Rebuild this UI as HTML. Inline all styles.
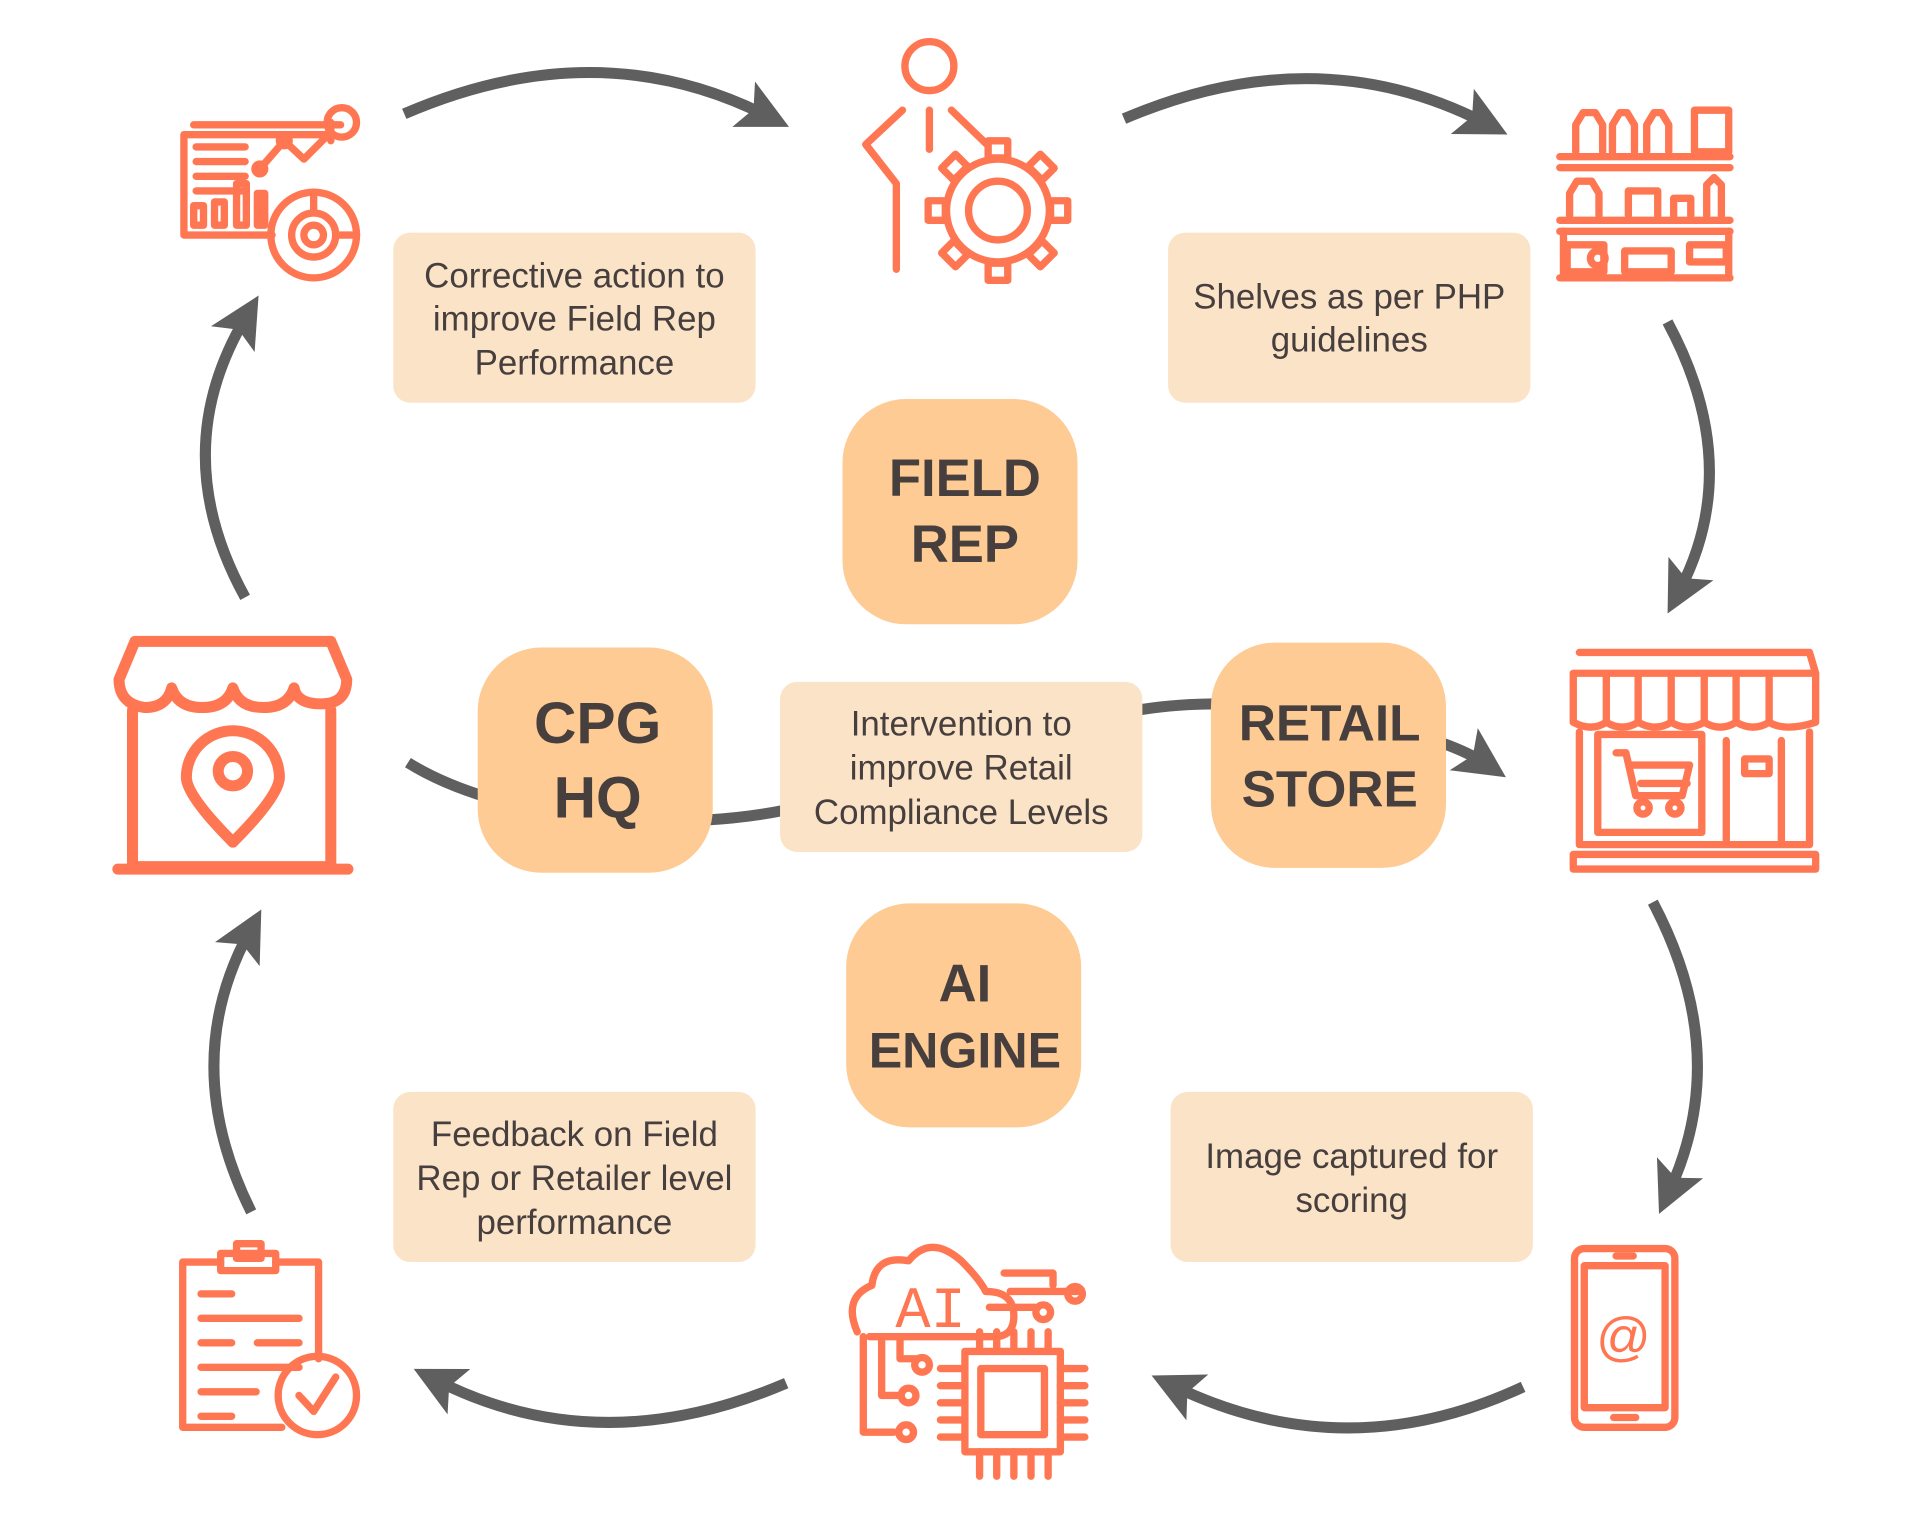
<!DOCTYPE html>
<html><head><meta charset="utf-8"><style>
html,body{margin:0;padding:0;background:#fff;}
svg{display:block}
text{font-family:"Liberation Sans",sans-serif;fill:#473f3d;text-anchor:middle}
.b{font-weight:bold;font-size:43px}
.l{font-size:28.5px}
.ic{fill:none;stroke:#FF7752;stroke-width:6;stroke-linecap:round;stroke-linejoin:round}
.ar{fill:none;stroke:#5f5f5f;stroke-width:9}
.it{fill:#FF7752;stroke:none}
</style></head><body>
<svg width="1920" height="1524" viewBox="0 0 1568 1245" xmlns="http://www.w3.org/2000/svg">
<defs>
<marker id="m" markerWidth="6" markerHeight="6" refX="2.2" refY="2.5" orient="auto" markerUnits="strokeWidth">
<path d="M0,0.2 L4.6,2.5 L0,4.8 L1,2.5 Z" fill="#5f5f5f"/></marker>
</defs>
<path class="ar" d="M330,93 Q487,25 625,94" marker-end="url(#m)"/>
<path class="ar" d="M918,97 Q1075,30 1212,100" marker-end="url(#m)"/>
<path class="ar" d="M1362,263 Q1425,380 1372,482" marker-end="url(#m)"/>
<path class="ar" d="M1350,737 Q1415,860 1364,972" marker-end="url(#m)"/>
<path class="ar" d="M1244,1133 Q1100,1200 960,1133" marker-end="url(#m)"/>
<path class="ar" d="M642,1130 Q490,1195 357,1128" marker-end="url(#m)"/>
<path class="ar" d="M205,990 Q145,870 203,762" marker-end="url(#m)"/>
<path class="ar" d="M200,488 Q135,370 200,260" marker-end="url(#m)"/>
<path class="ar" d="M333,623 Q360,640 400,652"/>
<path class="ar" d="M575,670 Q610,668 640,662"/>
<path class="ar" d="M930,580 Q960,575 995,575"/>
<path class="ar" d="M1178,607 Q1200,615 1212,623" marker-end="url(#m)"/>
<rect x="688" y="326" width="192" height="184" rx="52" fill="#FDCB93"/>
<text class="b" x="788" y="405">FIELD</text><text class="b" x="788" y="459">REP</text>
<rect x="390" y="529" width="192" height="184" rx="52" fill="#FDCB93"/>
<text class="b" x="488" y="607" style="font-size:48px">CPG</text><text class="b" x="488" y="668" style="font-size:48px">HQ</text>
<rect x="989" y="525" width="192" height="184" rx="52" fill="#FDCB93"/>
<text class="b" x="1086" y="605" style="font-size:42px">RETAIL</text><text class="b" x="1086" y="659" style="font-size:42px">STORE</text>
<rect x="691" y="738" width="192" height="183" rx="52" fill="#FDCB93"/>
<text class="b" x="788" y="818">AI</text><text class="b" x="788" y="872" style="font-size:41px">ENGINE</text>

<rect x="321" y="190" width="296" height="139" rx="14" fill="#FBE3C8"/>
<text class="l" x="469" y="235">Corrective action to</text><text class="l" x="469" y="270">improve Field Rep</text><text class="l" x="469" y="306">Performance</text>
<rect x="954" y="190" width="296" height="139" rx="14" fill="#FBE3C8"/>
<text class="l" x="1102" y="252">Shelves as per PHP</text><text class="l" x="1102" y="287">guidelines</text>
<rect x="637" y="557" width="296" height="139" rx="14" fill="#FBE3C8"/>
<text class="l" x="785" y="601">Intervention to</text><text class="l" x="785" y="637">improve Retail</text><text class="l" x="785" y="673">Compliance Levels</text>
<rect x="321" y="892" width="296" height="139" rx="14" fill="#FBE3C8"/>
<text class="l" x="469" y="936">Feedback on Field</text><text class="l" x="469" y="972">Rep or Retailer level</text><text class="l" x="469" y="1008">performance</text>
<rect x="956" y="892" width="296" height="139" rx="14" fill="#FBE3C8"/>
<text class="l" x="1104" y="954">Image captured for</text><text class="l" x="1104" y="990">scoring</text>

<g class="ic">
<path d="M270,115 L270,100 M266,110 L150,110 L150,192 L222,192"/>
<path d="M158,102 h120"/>
<path d="M160,120h40 M160,132h40 M160,144h40 M160,156h40"/>
<circle cx="279" cy="100" r="12"/><path d="M270,108 L248,130 L232,115 L212,138"/>
<circle cx="232" cy="115" r="4"/><circle cx="212" cy="138" r="4"/>
<rect x="158" y="168" width="8" height="16"/><rect x="175" y="165" width="8" height="19"/><rect x="193" y="150" width="8" height="34"/><rect x="210" y="158" width="6" height="26"/>
<circle cx="256" cy="192" r="35"/><circle cx="256" cy="192" r="18"/><circle cx="256" cy="192" r="8"/>
<path d="M256,157 v17 M291,192 h-17"/>
</g>
<g class="ic">
<circle cx="759" cy="54" r="20"/>
<path d="M737,90 L707,118 L732,150 L732,220 M759,90 V122 M777,90 L806,118"/>
<circle cx="815" cy="172" r="42"/><circle cx="815" cy="172" r="24"/>
<g transform="translate(815,172)">
<rect x="-8" y="-57" width="16" height="14"/><rect x="-8" y="43" width="16" height="14"/>
<rect x="-57" y="-8" width="14" height="16"/><rect x="43" y="-8" width="14" height="16"/>
<rect x="-8" y="-57" width="16" height="14" transform="rotate(45)"/><rect x="-8" y="-57" width="16" height="14" transform="rotate(135)"/>
<rect x="-8" y="-57" width="16" height="14" transform="rotate(225)"/><rect x="-8" y="-57" width="16" height="14" transform="rotate(315)"/>
</g>
</g>
<g class="ic">
<path d="M1274,128 H1413 M1274,137 H1413 M1274,180 H1413 M1274,189 H1413 M1274,227 H1413"/>
<path d="M1287,124 v-22 l6,-10 h10 l6,10 v22 M1317,124 v-22 l6,-10 h6 l6,10 v22 M1345,124 v-22 l6,-10 h6 l6,10 v22"/>
<rect x="1384" y="90" width="28" height="34"/>
<path d="M1282,176 v-18 l6,-10 h12 l6,10 v18 M1330,176 v-20 h24 v20 M1367,176 v-14 h14 v14 M1394,176 v-25 l6,-6 l6,6 v25"/>
<rect x="1280" y="200" width="30" height="22"/><circle cx="1305" cy="211" r="6"/>
<rect x="1327" y="205" width="38" height="17"/><rect x="1380" y="200" width="30" height="14"/>
<path d="M1277,189 V227 M1412,189 V227"/>
</g>
<g class="ic" style="stroke-width:9">
<path d="M110,524 H270 L283,555 Q283,575 262,575 Q242,575 240,562 Q235,578 215,578 Q195,578 190,562 Q185,578 165,578 Q145,578 140,562 Q136,578 118,578 Q97,575 97,555 Z"/>
<path d="M108,580 V708 H270 V580 M96,710 H284"/>
<path d="M190,688 Q152,650 152,635 A38,38 0 1,1 228,635 Q228,650 190,688 Z"/>
<circle cx="190" cy="630" r="12"/>
</g>
<g class="ic">
<path d="M1290,533 H1478 L1483,550 V590 M1285,550 H1483 M1285,550 V590 Q1300,598 1312,590 Q1325,598 1338,590 Q1352,598 1365,590 Q1378,598 1392,590 Q1405,598 1418,590 Q1432,598 1445,590 Q1458,598 1483,590 M1312,550V590 M1338,550V590 M1365,550V590 M1392,550V590 M1418,550V590 M1445,550V590"/>
<path d="M1290,598 V690 H1478 V598 M1285,698 H1483 V710 H1285 Z"/>
<rect x="1305" y="600" width="85" height="80"/>
<path d="M1320,615 h8 l8,35 h38 l6,-25 h-48 M1340,640 h38"/>
<circle cx="1342" cy="660" r="5"/><circle cx="1368" cy="660" r="5"/>
<path d="M1410,605 V688 M1455,605 V688 M1425,620 h20 v12 h-20 z"/>
</g>
<g class="ic">
<rect x="1286" y="1020" width="82" height="146" rx="8"/>
<path d="M1294,1034 H1360 V1150 H1294 Z M1318,1158 h18 M1320,1026 h14"/>
</g>
<text class="it" x="1326" y="1107" style="font-size:44px">@</text>
<g class="ic">
<path d="M700,1088 Q688,1060 712,1050 Q715,1025 742,1030 Q760,1008 785,1030 Q800,1045 805,1055 Q828,1055 828,1075 Q828,1092 812,1092 H710"/>
<path d="M705,1092 V1170 H730 M720,1092 V1140 H735 M735,1092 V1110 H748"/>
<circle cx="740" cy="1170" r="6"/><circle cx="742" cy="1140" r="6"/><circle cx="753" cy="1115" r="6"/>
<path d="M820,1040 H860 V1050 M825,1055 H880 M808,1068 H845"/>
<circle cx="878" cy="1057" r="6"/><circle cx="852" cy="1072" r="6"/>
<rect x="788" y="1104" width="78" height="82"/><rect x="801" y="1118" width="52" height="54"/>
<path d="M768,1118 h20 M768,1132 h20 M768,1146 h20 M768,1160 h20 M768,1174 h20 M866,1118 h20 M866,1132 h20 M866,1146 h20 M866,1160 h20 M866,1174 h20"/>
<path d="M800,1186 v20 M814,1186 v20 M828,1186 v20 M842,1186 v20 M856,1186 v20 M800,1104 v-16 M814,1104 v-16 M828,1104 v-16 M842,1104 v-16 M856,1104 v-16"/>
</g>
<text class="it" x="760" y="1084" style="font-size:48px;font-family:'Liberation Mono',monospace">AI</text>
<g class="ic">
<path d="M230,1166 H149 V1031 H180 M225,1031 H260 V1110"/>
<rect x="180" y="1024" width="45" height="14"/><rect x="193" y="1016" width="20" height="12"/>
<path d="M164,1057 h25 M164,1077 h80 M164,1097 h25 M210,1097 h34 M164,1117 h80 M164,1137 h45 M164,1157 h25"/>
<circle cx="259" cy="1140" r="32"/><path d="M244,1140 l12,13 l18,-28"/>
</g>
</svg>
</body></html>
